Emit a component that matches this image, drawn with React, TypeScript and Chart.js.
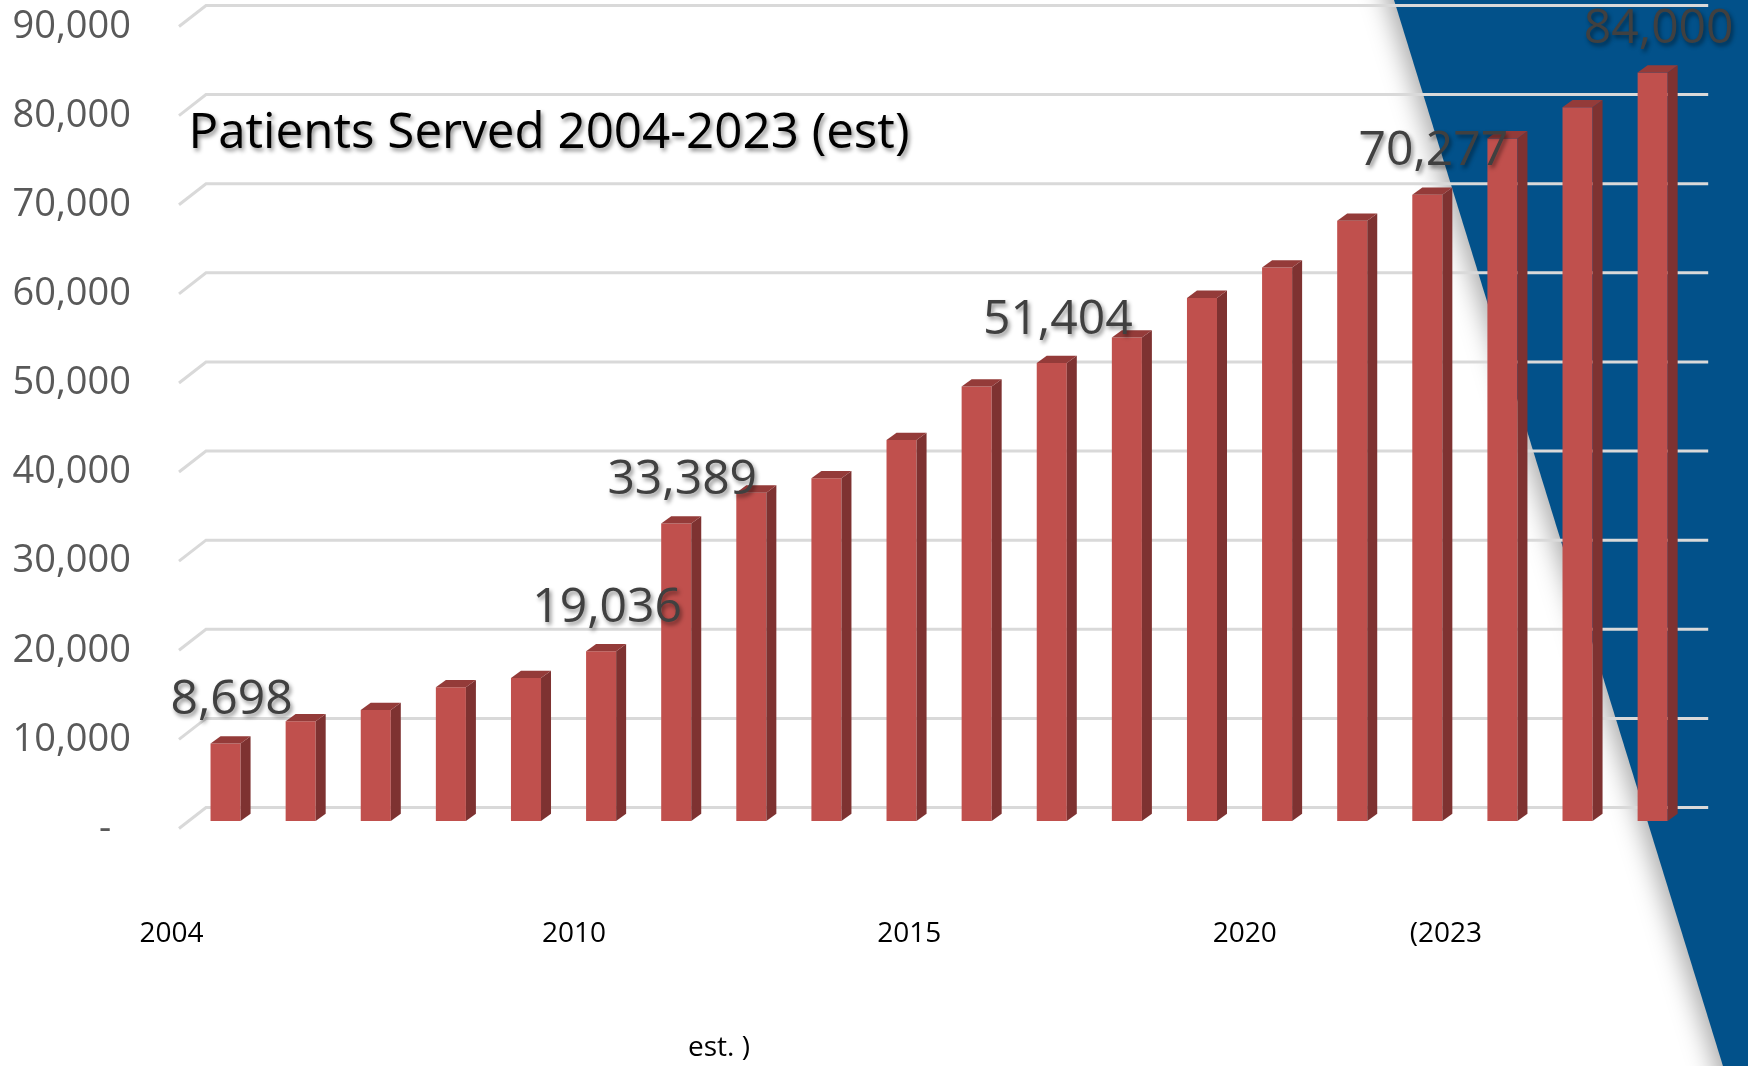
import React, { useEffect, useRef } from 'react';
import { Chart, registerables } from 'chart.js';

Chart.register(...registerables);

// ---------- data ----------
const YEARS = [
  '2004', '2005', '2006', '2007', '2008', '2009', '2010', '2011', '2012', '2013',
  '2014', '2015', '2016', '2017', '2018', '2019', '2020', '2021', '2022', '2023',
];
const PATIENTS = [
  8698, 11200, 12450, 15000, 16050, 19036, 33389, 36850, 38450, 42750,
  48750, 51404, 54250, 58700, 62100, 67350, 70277, 76600, 80100, 84000,
];
const LABELED_YEARS = ['2004', '2009', '2010', '2015', '2020', '2023'];
const Y_TICK_LABELS = ['-', '10,000', '20,000', '30,000', '40,000', '50,000', '60,000', '70,000', '80,000', '90,000'];
const X_TICK_YEARS = [2004, 2010, 2015, 2020, 2023];
const X_TICK_LABELS = ['2004', '2010', '2015', '2020', '(2023'];
const X_NOTE = 'est. )';
const TITLE = 'Patients Served 2004-2023 (est)';

const FONT = "'Open Sans', 'Noto Sans', sans-serif";
const W = 1748;
const H = 1066;

const backgroundPlugin = {
  id: 'bgPanel',
  beforeDraw(chart: any) {
    const ctx = chart.ctx;
    ctx.save();
    ctx.fillStyle = '#ffffff';
    ctx.fillRect(0, 0, chart.width, chart.height);
    ctx.shadowColor = 'rgba(0,0,0,0.35)';
    ctx.shadowBlur = 26;
    ctx.shadowOffsetX = -7;
    ctx.fillStyle = '#02518A';
    ctx.beginPath();
    ctx.moveTo(1378.6, -50);
    ctx.lineTo(1738.4, chart.height + 50);
    ctx.lineTo(chart.width + 80, chart.height + 50);
    ctx.lineTo(chart.width + 80, -50);
    ctx.closePath();
    ctx.fill();
    ctx.restore();
  },
};

const gridPlugin = {
  id: 'grid3d',
  beforeDatasetsDraw(chart: any) {
    const ctx = chart.ctx;
    const ys = chart.scales.y;
    const { left, right } = chart.chartArea;
    ctx.save();
    ctx.strokeStyle = '#D9D9D9';
    ctx.lineWidth = 3;
    ys.ticks.forEach((t: any) => {
      const yb = ys.getPixelForValue(t.value) - 13.5;
      ctx.beginPath();
      ctx.moveTo(left - 9, yb + 21);
      ctx.lineTo(left + 18, yb);
      ctx.lineTo(right + 18, yb);
      ctx.stroke();
    });
    ctx.restore();
  },
};

const bar3dPlugin = {
  id: 'bar3d',
  afterDatasetsDraw(chart: any) {
    const ctx = chart.ctx;
    const meta = chart.getDatasetMeta(0);
    const dx = 10;
    const dy = 7.3;
    ctx.save();
    meta.data.forEach((bar: any) => {
      const { x, y, base, width } = bar.getProps(['x', 'y', 'base', 'width'], true);
      const l = x - width / 2;
      const r = x + width / 2;
      ctx.fillStyle = '#7E3231';
      ctx.beginPath();
      ctx.moveTo(r, y);
      ctx.lineTo(r + dx, y - dy);
      ctx.lineTo(r + dx, base - dy);
      ctx.lineTo(r, base);
      ctx.closePath();
      ctx.fill();
      ctx.fillStyle = '#943B39';
      ctx.beginPath();
      ctx.moveTo(l, y);
      ctx.lineTo(l + dx, y - dy);
      ctx.lineTo(r + dx, y - dy);
      ctx.lineTo(r, y);
      ctx.closePath();
      ctx.fill();
    });
    ctx.restore();
  },
};

const textPlugin = {
  id: 'texts',
  afterDraw(chart: any) {
    const ctx = chart.ctx;
    const meta = chart.getDatasetMeta(0);
    ctx.save();
    // data labels
    ctx.font = `48px ${FONT}`;
    ctx.textAlign = 'center';
    ctx.textBaseline = 'middle';
    ctx.shadowColor = 'rgba(0,0,0,0.45)';
    ctx.shadowBlur = 4;
    ctx.shadowOffsetX = 2;
    ctx.shadowOffsetY = 3;
    ctx.fillStyle = '#404040';
    LABELED_YEARS.forEach((yr) => {
      const i = YEARS.indexOf(yr);
      const el = meta.data[i];
      if (!el) return;
      const { x, y } = el.getProps(['x', 'y'], true);
      ctx.fillText(PATIENTS[i].toLocaleString('en-US'), x + 6, y - 43);
    });
    // title
    ctx.font = `49.3px ${FONT}`;
    ctx.textAlign = 'left';
    ctx.textBaseline = 'alphabetic';
    ctx.fillStyle = '#000000';
    ctx.shadowColor = 'rgba(0,0,0,0.45)';
    ctx.shadowBlur = 4;
    ctx.shadowOffsetX = 2;
    ctx.shadowOffsetY = 3;
    ctx.fillText(TITLE, chart.chartArea.left + 0.5, 148);
    // wrapped note of the last axis label
    ctx.shadowColor = 'transparent';
    ctx.font = `28px ${FONT}`;
    ctx.textAlign = 'center';
    ctx.textBaseline = 'middle';
    ctx.fillStyle = '#000000';
    ctx.fillText(X_NOTE, 719, 1048);
    ctx.restore();
  },
};

export default function App() {
  const ref = useRef<HTMLCanvasElement | null>(null);

  useEffect(() => {
    if (!ref.current) return;
    const chart = new Chart(ref.current, {
      type: 'bar',
      data: {
        labels: YEARS,
        datasets: [
          {
            label: 'Patients Served',
            data: PATIENTS,
            backgroundColor: '#C0504D',
            borderWidth: 0,
            barPercentage: 0.4,
            categoryPercentage: 1,
          },
        ],
      },
      options: {
        animation: false,
        responsive: false,
        maintainAspectRatio: false,
        devicePixelRatio: 1,
        layout: { padding: { top: 19, right: 57.8, bottom: 0, left: 0 } },
        plugins: {
          legend: { display: false },
          tooltip: { enabled: false },
          title: { display: false },
        },
        scales: {
          x: {
            type: 'category',
            display: false,
          },
          x2: {
            type: 'linear',
            position: 'bottom',
            offset: false,
            min: 2003.6496,
            max: 2026.0466,
            grid: { display: false, drawTicks: false, offset: false },
            border: { display: false },
            afterBuildTicks: (s: any) => {
              s.ticks = X_TICK_YEARS.map((v) => ({ value: v }));
            },
            afterFit: (s: any) => {
              s.height = 245;
              s.paddingLeft = 0;
              s.paddingRight = 0;
            },
            ticks: {
              autoSkip: false,
              maxRotation: 0,
              minRotation: 0,
              padding: 96,
              labelOffset: -40,
              color: '#000000',
              font: { family: FONT, size: 28 },
              callback: (v: any) => {
                const i = X_TICK_YEARS.indexOf(Number(v));
                return i >= 0 ? X_TICK_LABELS[i] : '';
              },
            },
          },
          y: {
            type: 'linear',
            min: 0,
            max: 90000,
            grid: { display: false, drawTicks: false },
            border: { display: false },
            afterFit: (s: any) => {
              s.width = 188;
              s.paddingTop = 0;
              s.paddingBottom = 0;
            },
            ticks: {
              stepSize: 10000,
              padding: 57,
              labelOffset: 8,
              color: '#595959',
              font: { family: FONT, size: 38 },
              callback: (_v: any, i: number) => {
                const t = Y_TICK_LABELS[i];
                return t === '-' ? '-  ' : t;
              },
            },
          },
        },
      },
      plugins: [backgroundPlugin, gridPlugin, bar3dPlugin, textPlugin],
    });
    return () => chart.destroy();
  }, []);

  return (
    <div style={{ position: 'absolute', left: 0, top: 0, width: W, height: H }}>
      <canvas ref={ref} width={W} height={H} style={{ width: W, height: H, display: 'block' }} />
    </div>
  );
}
